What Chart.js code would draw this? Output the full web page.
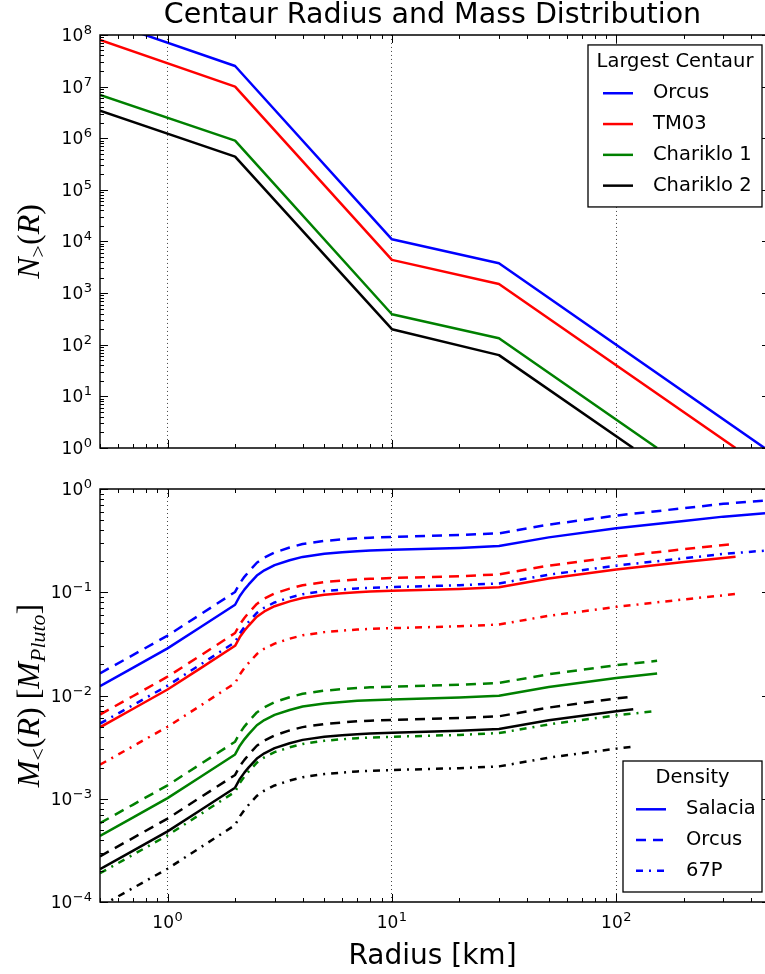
<!DOCTYPE html>
<html><head><meta charset="utf-8">
<script src="https://cdn.jsdelivr.net/npm/chart.js@4.4.1/dist/chart.umd.min.js"></script>
<style>
html,body{margin:0;padding:0;background:#fff;overflow:hidden}
#wrap{position:relative;width:765px;height:974px;background:#fff}
canvas{position:absolute;left:0}
#topChart{top:0}
#botChart{top:470px}
</style></head><body>
<div id="wrap"><canvas id="topChart" width="765" height="470"></canvas><canvas id="botChart" width="765" height="504"></canvas></div>
<script>
// ---------- text ----------
const chartTitle = 'Centaur Radius and Mass Distribution';
const xAxisTitle = 'Radius [km]';
const topLegendTitle = 'Largest Centaur';
const bottomLegendTitle = 'Density';
const centaurNames = ['Orcus', 'TM03', 'Chariklo 1', 'Chariklo 2'];
const densityNames = ['Salacia', 'Orcus', '67P'];

// ---------- axes ----------
const X_MIN = 0.5, X_MAX = 460;
const xTickValues = [1, 10, 100];
const topYTickValues = [1, 1e1, 1e2, 1e3, 1e4, 1e5, 1e6, 1e7, 1e8];
const bottomYTickValues = [1e-4, 1e-3, 1e-2, 1e-1, 1];

// ---------- top panel: N_>(R) ----------
const nRadiusOrcus = [0.5, 2, 10, 30, 458];
const nOrcus = [2.0e8, 2.5e7, 1.1e4, 3.8e3, 1];
const nRadiusTM03 = [0.5, 2, 10, 30, 340];
const nTM03 = [8.0e7, 1.0e7, 4.4e3, 1.5e3, 1];
const nRadiusChariklo1 = [0.5, 2, 10, 30, 152];
const nChariklo1 = [6.9e6, 9.0e5, 390, 133, 1];
const nRadiusChariklo2 = [0.5, 2, 10, 30, 119];
const nChariklo2 = [3.4e6, 4.4e5, 200, 63, 1];

// ---------- bottom panel: M_<(R) ----------
const mRadiusOrcus = [0.5,0.7,1,1.4,2,2.1,2.2,2.3,2.5,2.7,3,3.5,4,5,6,7,8,10,20,30,50,100,200,300,460];
const mOrcusSalacia = [0.0123,0.0185,0.0286,0.0458,0.0757,0.092,0.106,0.119,0.145,0.163,0.183,0.204,0.220,0.236,0.244,0.250,0.254,0.258,0.269,0.280,0.340,0.416,0.490,0.540,0.582];
const mOrcusOrcus = [0.0164,0.0246,0.0380,0.0609,0.1007,0.1224,0.141,0.158,0.193,0.217,0.243,0.271,0.293,0.314,0.325,0.333,0.338,0.343,0.358,0.372,0.452,0.553,0.652,0.718,0.774];
const mOrcus67P = [0.00535,0.00805,0.01244,0.0199,0.0329,0.0400,0.0461,0.0518,0.0631,0.0709,0.0796,0.0887,0.0957,0.1027,0.1061,0.1088,0.1105,0.1122,0.1170,0.1218,0.1479,0.181,0.213,0.235,0.253];

const mRadiusTM03 = [0.5,0.7,1,1.4,2,2.1,2.2,2.3,2.5,2.7,3,3.5,4,5,6,7,8,10,20,30,50,100,200,340];
const mTM03Salacia = [0.00492,0.0074,0.01144,0.0183,0.0303,0.0368,0.0424,0.0476,0.058,0.0652,0.0732,0.0816,0.088,0.0944,0.0976,0.100,0.1016,0.1032,0.1076,0.112,0.136,0.166,0.196,0.221];
const mTM03Orcus = [0.00654,0.00984,0.01522,0.0243,0.0403,0.0489,0.0564,0.0633,0.0771,0.0867,0.0974,0.1085,0.117,0.1256,0.1298,0.133,0.1351,0.1373,0.1431,0.149,0.181,0.221,0.261,0.294];
const mTM0367P = [0.00214,0.00322,0.00498,0.00796,0.01318,0.0160,0.01844,0.0207,0.0252,0.0284,0.0318,0.0355,0.0383,0.0411,0.0425,0.0435,0.0442,0.0449,0.0468,0.0487,0.0592,0.0722,0.0853,0.0961];

const mRadiusChariklo1 = [0.5,0.7,1,1.4,2,2.1,2.2,2.3,2.5,2.7,3,3.5,4,5,6,7,8,10,20,30,50,100,152];
const mChariklo1Salacia = [0.000437,0.000657,0.001015,0.001626,0.002687,0.003266,0.003763,0.004225,0.005148,0.005787,0.006497,0.007242,0.00781,0.008378,0.008662,0.008875,0.009017,0.009159,0.00955,0.00994,0.01207,0.01477,0.0163];
const mChariklo1Orcus = [0.000581,0.000874,0.00135,0.00216,0.00357,0.00434,0.0050,0.00562,0.00685,0.0077,0.00864,0.00963,0.01039,0.01114,0.01152,0.0118,0.01199,0.01218,0.0127,0.01322,0.01605,0.01964,0.0217];
const mChariklo167P = [0.00019,0.000286,0.000442,0.000707,0.001169,0.001421,0.001637,0.001838,0.002239,0.002517,0.002826,0.00315,0.003397,0.003644,0.003768,0.003861,0.003922,0.003984,0.004154,0.004324,0.00525,0.006425,0.00709];

const mRadiusChariklo2 = [0.5,0.7,1,1.4,2,2.1,2.2,2.3,2.5,2.7,3,3.5,4,5,6,7,8,10,20,30,50,100,119];
const mChariklo2Salacia = [0.000208,0.000313,0.000483,0.000774,0.001279,0.001555,0.001791,0.002011,0.00245,0.002755,0.003093,0.003448,0.003718,0.003988,0.004124,0.004225,0.004293,0.00436,0.004546,0.004732,0.005746,0.00703,0.00735];
const mChariklo2Orcus = [0.000277,0.000416,0.000642,0.00103,0.0017,0.00207,0.00238,0.00267,0.00326,0.00366,0.00411,0.00459,0.00494,0.0053,0.00548,0.00562,0.00571,0.0058,0.00605,0.00629,0.00764,0.00935,0.00978];
const mChariklo267P = [0.0000905,0.000136,0.00021,0.000337,0.000556,0.000676,0.000779,0.000875,0.001066,0.001198,0.001345,0.0015,0.001617,0.001735,0.001794,0.001838,0.001867,0.001897,0.001978,0.002058,0.0025,0.003058,0.0032];

// ---------- styles ----------
const centaurColors = ['#0000ff', '#ff0000', '#008000', '#000000'];
const densityDashes = [[], [10, 7], [7, 6, 2, 6]];
const LINE_W = 2.5;
const FONT = "'DejaVu Sans', sans-serif";
const TICK_FONT = '17px ' + FONT;
const SUP_FONT = '13px ' + FONT;

Chart.defaults.font.family = FONT;
Chart.defaults.color = '#000';

function setTicks(values) { return (scale) => { scale.ticks = values.map(v => ({value: v})); }; }
function pts(xs, ys) { return xs.map((x, i) => ({x: x, y: ys[i]})); }
function expText(v) { return String(Math.round(Math.log10(v))).replace('-', '\u2212'); }

function lineDataset(label, xs, ys, color, dash) {
  return { label, data: pts(xs, ys), borderColor: color, backgroundColor: color, borderWidth: LINE_W,
    borderDash: dash, pointRadius: 0, fill: false, tension: 0, borderCapStyle: 'butt', borderJoinStyle: 'round' };
}

const topRadii = [nRadiusOrcus, nRadiusTM03, nRadiusChariklo1, nRadiusChariklo2];
const topValues = [nOrcus, nTM03, nChariklo1, nChariklo2];
const topDatasets = centaurNames.map((n, i) => lineDataset(n, topRadii[i], topValues[i], centaurColors[i], []));

const botRadii = [mRadiusOrcus, mRadiusTM03, mRadiusChariklo1, mRadiusChariklo2];
const botValues = [
  [mOrcusSalacia, mOrcusOrcus, mOrcus67P],
  [mTM03Salacia, mTM03Orcus, mTM0367P],
  [mChariklo1Salacia, mChariklo1Orcus, mChariklo167P],
  [mChariklo2Salacia, mChariklo2Orcus, mChariklo267P]
];
const botDatasets = [];
centaurNames.forEach((n, i) => densityNames.forEach((d, j) => {
  botDatasets.push(lineDataset(n + ' / ' + d, botRadii[i], botValues[i][j], centaurColors[i], densityDashes[j]));
}));

// ---------- helpers for frame / ticks / labels / legend ----------
function logTicks(min, max) {
  const out = [];
  for (let e = Math.floor(Math.log10(min)) - 1; e <= Math.ceil(Math.log10(max)); e++) {
    for (let k = 1; k <= 9; k++) {
      const v = k * Math.pow(10, e);
      if (v >= min * 0.9999 && v <= max * 1.0001) out.push({v, major: k === 1});
    }
  }
  return out;
}
// "10" with a raised exponent, baseline at y
function drawPow(ctx, v, x, y, align) {
  const base = '10', ex = expText(v);
  ctx.font = TICK_FONT; const wb = ctx.measureText(base).width;
  ctx.font = SUP_FONT; const we = ctx.measureText(ex).width;
  const gap = 0.5, total = wb + gap + we;
  const x0 = align === 'right' ? x - total : x - total / 2;
  ctx.textAlign = 'left';
  ctx.textBaseline = 'alphabetic';
  ctx.fillStyle = '#000';
  ctx.font = TICK_FONT; ctx.fillText(base, x0, y);
  ctx.font = SUP_FONT; ctx.fillText(ex, x0 + wb + gap, y - 7.4);
}
function drawMath(ctx, segs, bx, cy) {
  ctx.save();
  ctx.translate(bx, cy);
  ctx.rotate(-Math.PI / 2);
  ctx.textBaseline = 'alphabetic';
  ctx.textAlign = 'left';
  ctx.fillStyle = '#000';
  let total = 0;
  segs.forEach(s => { ctx.font = s.font; s.w = ctx.measureText(s.t).width; total += s.w + (s.gap || 0); });
  let x = -total / 2;
  segs.forEach(s => { ctx.font = s.font; ctx.fillText(s.t, x, s.dy || 0); x += s.w + (s.gap || 0); });
  ctx.restore();
}
function drawLegend(ctx, L, a) {
  const x = a.right - L.rightInset - L.w;
  const y = L.anchor === 'top' ? a.top + L.inset : a.bottom - L.inset - L.h;
  ctx.save();
  ctx.fillStyle = '#fff';
  ctx.fillRect(x, y, L.w, L.h);
  ctx.setLineDash([]);
  ctx.strokeStyle = '#000';
  ctx.lineWidth = 1.3;
  ctx.strokeRect(x, y, L.w, L.h);
  ctx.font = '19.5px ' + FONT;
  ctx.fillStyle = '#000';
  ctx.textBaseline = 'middle';
  ctx.textAlign = 'center';
  ctx.fillText(L.title, x + L.w / 2, y + L.titleDy);
  L.items.forEach((it, i) => {
    const ly = y + L.firstDy + i * L.step;
    ctx.strokeStyle = it.color;
    ctx.lineWidth = LINE_W;
    ctx.setLineDash(it.dash);
    ctx.beginPath();
    ctx.moveTo(x + L.sx0, ly);
    ctx.lineTo(x + L.sx1, ly);
    ctx.stroke();
    ctx.setLineDash([]);
    ctx.textAlign = 'left';
    ctx.fillText(it.label, x + L.tx, ly);
  });
  ctx.restore();
}
const framePlugin = {
  id: 'frame',
  afterDraw(chart, args, opts) {
    const ctx = chart.ctx, a = chart.chartArea;
    const xs = chart.scales.x, ys = chart.scales.y;
    ctx.save();
    ctx.strokeStyle = '#000';
    ctx.lineWidth = 1;
    ctx.setLineDash([]);
    ctx.beginPath();
    logTicks(xs.min, xs.max).forEach(t => {
      const px = Math.round(xs.getPixelForValue(t.v)) + 0.5;
      const len = t.major ? 8 : 4;
      ctx.moveTo(px, a.top); ctx.lineTo(px, a.top + len);
      ctx.moveTo(px, a.bottom); ctx.lineTo(px, a.bottom - len);
    });
    logTicks(ys.min, ys.max).forEach(t => {
      const py = Math.round(ys.getPixelForValue(t.v)) + 0.5;
      const len = t.major ? 8 : 4;
      ctx.moveTo(a.left, py); ctx.lineTo(a.left + len, py);
      if (t.major) { ctx.moveTo(a.right, py); ctx.lineTo(a.right - 3, py); }
    });
    ctx.stroke();
    ctx.lineWidth = 1.4;
    ctx.beginPath();
    ctx.moveTo(a.right + 2, a.top); ctx.lineTo(a.left, a.top); ctx.lineTo(a.left, a.bottom); ctx.lineTo(a.right + 2, a.bottom);
    ctx.stroke();
    // tick labels from the library's scales
    ys.ticks.forEach(t => drawPow(ctx, t.value, a.left - 8, Math.round(ys.getPixelForValue(t.value)) + 6, 'right'));
    if (opts.xLabels) xs.ticks.forEach(t => drawPow(ctx, t.value, xs.getPixelForValue(t.value), a.bottom + 26, 'center'));
    ctx.restore();
    if (opts.math) drawMath(ctx, opts.math, opts.mathX, (a.top + a.bottom) / 2);
    if (opts.legend) drawLegend(ctx, opts.legend, a);
  }
};

const SERIF = "'Liberation Serif', serif";
const mIt = 'italic 32px ' + SERIF, mRm = '32px ' + SERIF, mSub = '22px ' + SERIF, mSubIt = 'italic 22px ' + SERIF;

function xScale(extra) {
  return Object.assign({
    type: 'logarithmic', min: X_MIN, max: X_MAX,
    afterBuildTicks: setTicks(xTickValues),
    ticks: { display: false },
    grid: { display: true, drawTicks: false, color: '#444', lineWidth: 1 },
    border: { display: false, dash: [1, 3] }
  }, extra);
}
function yScale(min, max, values) {
  return {
    type: 'logarithmic', min: min, max: max,
    afterBuildTicks: setTicks(values),
    afterFit: s => { s.width = 100; },
    ticks: { display: false },
    grid: { display: false, drawTicks: false },
    border: { display: false }
  };
}

new Chart(document.getElementById('topChart'), {
  type: 'line',
  data: { datasets: topDatasets },
  options: {
    responsive: false, animation: false, devicePixelRatio: 1,
    layout: { padding: 0 },
    plugins: {
      legend: { display: false },
      tooltip: { enabled: false },
      title: { display: true, text: chartTitle, fullSize: false, color: '#000',
        font: { size: 28.5, weight: 'normal', lineHeight: 1.1 }, padding: { top: 0, bottom: 3.6 } },
      frame: {
        xLabels: false,
        mathX: 39,
        math: [ {t: 'N', font: mIt}, {t: '>', font: mSub, dy: 6}, {t: '(', font: mRm}, {t: 'R', font: mIt}, {t: ')', font: mRm} ],
        legend: {
          title: topLegendTitle, anchor: 'top', rightInset: 3, inset: 10, w: 174, h: 162,
          titleDy: 16.5, firstDy: 48.3, step: 30.8, sx0: 15, sx1: 45, tx: 65,
          items: centaurNames.map((n, i) => ({label: n, color: centaurColors[i], dash: []}))
        }
      }
    },
    scales: {
      x: xScale({ afterFit: s => { s.height = 22; } }),
      y: yScale(1, 1e8, topYTickValues)
    }
  },
  plugins: [framePlugin]
});

new Chart(document.getElementById('botChart'), {
  type: 'line',
  data: { datasets: botDatasets },
  options: {
    responsive: false, animation: false, devicePixelRatio: 1,
    layout: { padding: { top: 19, left: 0, right: 0, bottom: 0 } },
    plugins: {
      legend: { display: false },
      tooltip: { enabled: false },
      frame: {
        xLabels: true,
        mathX: 39,
        math: [ {t: 'M', font: mIt}, {t: '<', font: mSub, dy: 6}, {t: '(', font: mRm}, {t: 'R', font: mIt},
                {t: ')', font: mRm, gap: 8}, {t: '[', font: mRm}, {t: 'M', font: mIt}, {t: 'Pluto', font: mSubIt, dy: 6}, {t: ']', font: mRm} ],
        legend: {
          title: bottomLegendTitle, anchor: 'bottom', rightInset: 3, inset: 10, w: 139, h: 131,
          titleDy: 17.3, firstDy: 48.3, step: 30.7, sx0: 13, sx1: 43, tx: 63,
          items: densityNames.map((d, j) => ({label: d, color: centaurColors[0], dash: densityDashes[j]}))
        }
      }
    },
    scales: {
      x: xScale({
        title: { display: true, text: xAxisTitle, color: '#000', font: { size: 28 }, padding: { top: 0, bottom: 0 } },
        afterFit: s => { s.height = 72; }
      }),
      y: yScale(1e-4, 1, bottomYTickValues)
    }
  },
  plugins: [framePlugin]
});
</script>
</body></html>
